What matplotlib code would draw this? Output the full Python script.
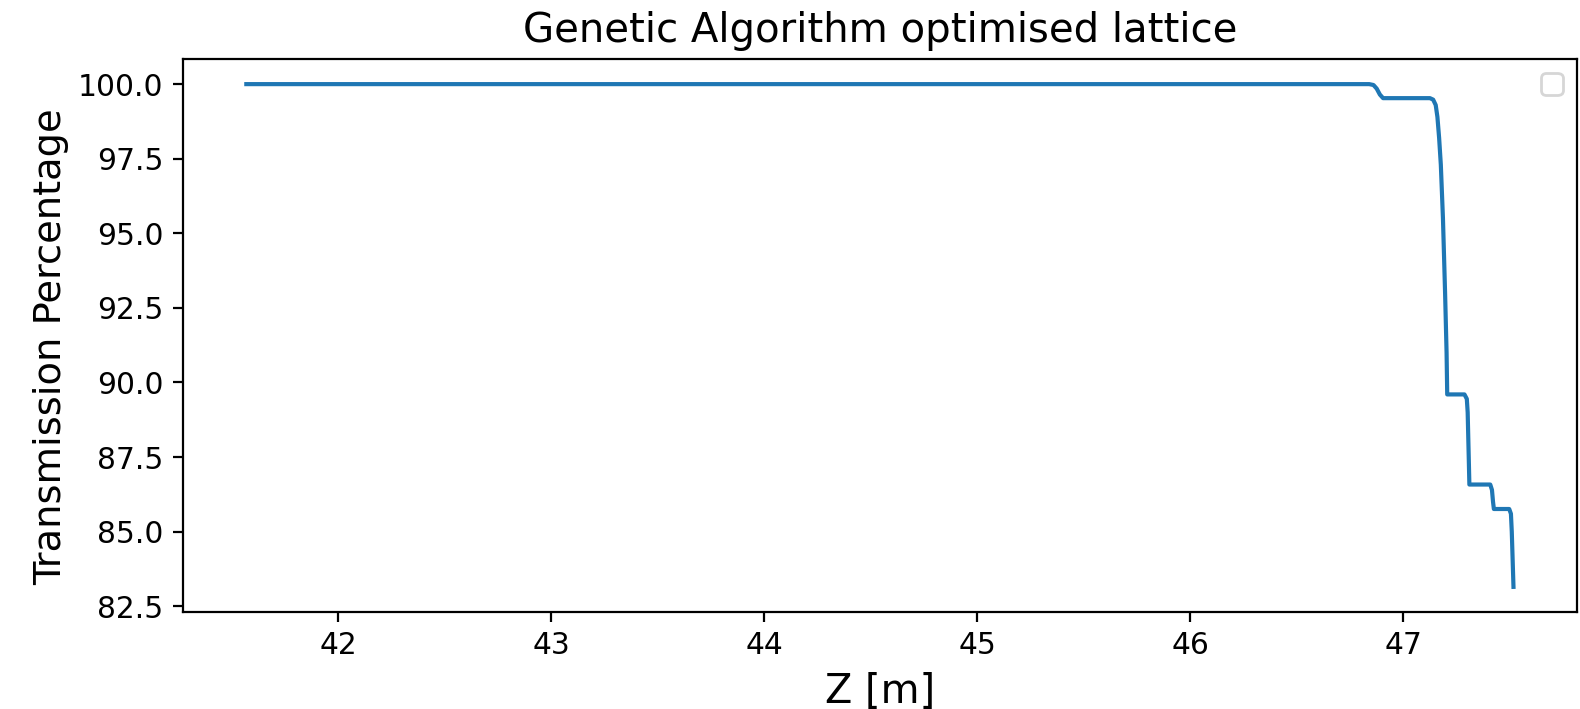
import matplotlib
matplotlib.use("Agg")
import matplotlib.pyplot as plt

# Data
z_m = [41.57, 46.84, 46.86, 46.875, 46.89, 46.905, 47.125, 47.14, 47.152,
       47.16, 47.168, 47.176, 47.186, 47.196, 47.203, 47.206,
       47.287, 47.298, 47.302, 47.307, 47.31,
       47.408, 47.416, 47.421, 47.425,
       47.497, 47.505, 47.509, 47.517]
transmission = [100.0, 100.0, 99.97, 99.85, 99.65, 99.53, 99.53, 99.48, 99.3,
                98.9, 98.2, 97.3, 95.5, 93.0, 91.0, 89.6,
                89.6, 89.45, 89.0, 87.5, 86.58,
                86.58, 86.4, 86.0, 85.76,
                85.76, 85.6, 85.0, 83.15]

fig = plt.figure(figsize=(7.9, 3.545), dpi=200)
ax = fig.add_axes([0.1158, 0.1368, 0.998 - 0.1158, 0.9168 - 0.1368])
ax.plot(z_m, transmission, color="#1f77b4", lw=1.5)
ax.set_title("Genetic Algorithm optimised lattice", fontsize=14.5)
ax.set_xlabel("Z [m]", fontsize=14.4)
ax.set_ylabel("Transmission Percentage", fontsize=13.8)
ax.tick_params(labelsize=10.7)
ax.set_yticks([82.5, 85.0, 87.5, 90.0, 92.5, 95.0, 97.5, 100.0])
ax.yaxis.set_label_coords(-0.0815, 0.479)
ax.legend()
fig.savefig("out.png", dpi=200)
